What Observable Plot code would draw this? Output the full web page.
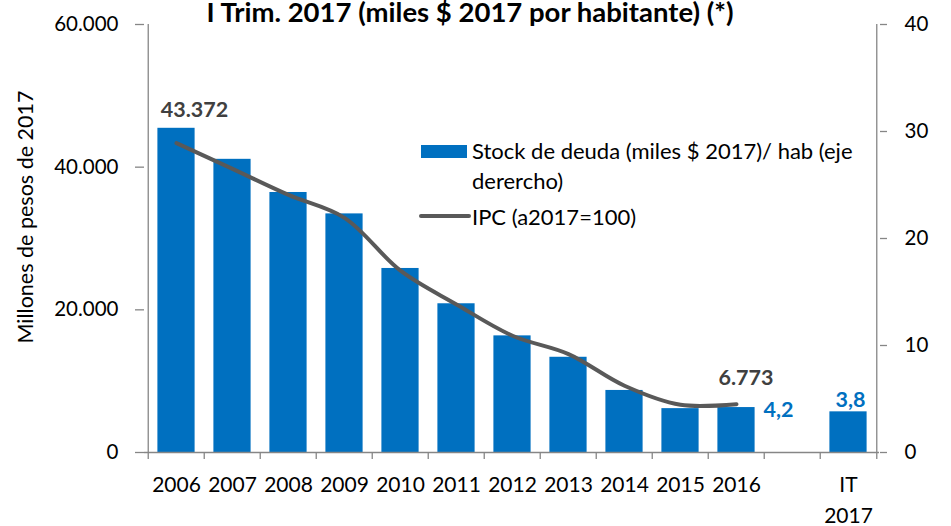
<!DOCTYPE html>
<html><head><meta charset="utf-8">
<script src="https://cdn.jsdelivr.net/npm/d3@7"></script>
<script src="https://cdn.jsdelivr.net/npm/@observablehq/plot@0.6"></script>
<style>
body{margin:0;background:#fff;font-family:Lato,"Open Sans",sans-serif;color:#000;}
#wrap{position:relative;width:951px;height:526px;overflow:hidden;}
#chart{position:absolute;left:0;top:0;}
#title{position:absolute;left:0;width:940px;top:-2px;text-align:center;font-weight:bold;font-size:27.5px;line-height:28px;white-space:nowrap;}
.lg{position:absolute;font-size:22px;line-height:30px;white-space:nowrap;}
#ytitle{position:absolute;left:25px;top:217px;transform:translate(-50%,-50%) rotate(-90deg);font-size:21.5px;white-space:nowrap;}
</style>
</head><body>
<div id="wrap">
  <div id="chart"></div>
  <div id="title">I Trim. 2017 (miles $ 2017 por habitante) (*)</div>
  <div id="ytitle">Millones de pesos de 2017</div>
  <div style="position:absolute;left:421px;top:145px;width:46px;height:13px;background:#0070C0;"></div>
  <div class="lg" style="left:472px;top:136px;">Stock de deuda (miles $ 2017)/ hab (eje</div>
  <div class="lg" style="left:472px;top:166px;">derercho)</div>
  <div style="position:absolute;left:419px;top:214px;width:52px;height:4px;border-radius:2px;background:#595959;"></div>
  <div class="lg" style="left:472px;top:202px;">IPC (a2017=100)</div>
</div>
<script>
const categories = ["2006","2007","2008","2009","2010","2011","2012","2013","2014","2015","2016"," ","IT 2017"];
const tickLabels = ["2006","2007","2008","2009","2010","2011","2012","2013","2014","2015","2016","","IT\n2017"];
const stockPerHab = [30.3,27.4,24.3,22.3,17.2,13.9,10.9,8.9,5.8,4.1,4.2,null,3.8];
const ipc = [43372,39760,36110,32900,25490,20760,16370,13800,9360,6690,6773,null,null];
const leftTicks = [0,20000,40000,60000];
const rightTicks = [0,10,20,30,40];

const W = 951, H = 526, mL = 144, mR = 72, mT = 24, mB = 74;
const step = (W - mL - mR) / categories.length;
const plotH = H - mT - mB;
const ratio = 60000 / 40;
const gray = "#868686";
const blue = "#0070C0";
const dark = "#595959";
const fmtThousands = d => d3.format(",")(d).replace(/,/g, ".");
const fmtComma = d => d3.format(".1f")(d).replace(".", ",");

const data = categories.map((c, i) => ({cat: c, label: tickLabels[i], stock: stockPerHab[i], ipc: ipc[i]}));
const bars = data.filter(d => d.stock != null);
const linePts = data.filter(d => d.ipc != null);

const chart = Plot.plot({
  width: W, height: H,
  marginLeft: mL, marginRight: mR, marginTop: mT, marginBottom: mB,
  style: {fontFamily: "Lato, 'Open Sans', sans-serif", background: "transparent"},
  x: {type: "band", domain: categories, padding: 0, axis: null},
  y: {domain: [0, 60000], axis: null},
  marks: [
    Plot.barY(bars, {x: "cat", y: d => d.stock * ratio, fill: blue, insetLeft: 9.4, insetRight: 9.4}),
    Plot.ruleY([0], {stroke: gray, strokeWidth: 1.3}),
    Plot.ruleX([categories[0]], {x: d => d, dx: -step / 2, stroke: gray, strokeWidth: 1.3}),
    Plot.ruleX([categories[categories.length - 1]], {x: d => d, dx: step / 2, stroke: gray, strokeWidth: 1.3}),
    Plot.ruleX(categories, {x: d => d, dx: -step / 2, insetTop: plotH, insetBottom: -7, stroke: gray, strokeWidth: 1.3}),
    Plot.ruleX([categories[categories.length - 1]], {x: d => d, dx: step / 2, insetTop: plotH, insetBottom: -7, stroke: gray, strokeWidth: 1.3}),
    Plot.axisY(leftTicks, {anchor: "left", label: null, tickSize: 9, tickPadding: 17, tickFormat: fmtThousands, fontSize: 20.5, stroke: gray, fill: "#000", strokeWidth: 1.3}),
    Plot.axisY(rightTicks.map(t => t * ratio), {anchor: "right", label: null, tickSize: 7, tickPadding: 18, tickFormat: d => d / ratio, fontSize: 20.5, stroke: gray, fill: "#000", strokeWidth: 1.3}),
    Plot.text(data, {x: "cat", text: "label", frameAnchor: "bottom", lineAnchor: "top", dy: 18, lineHeight: 1.45, fontSize: 21, fill: "#000"}),
    Plot.line(linePts, {x: "cat", y: "ipc", curve: "catmull-rom", stroke: dark, strokeWidth: 4, strokeLinecap: "round"}),
    Plot.text([linePts[0]], {x: "cat", y: "ipc", text: d => fmtThousands(d.ipc), dx: 18, dy: -33, fontWeight: "bold", fontSize: 21.5, fill: "#404040"}),
    Plot.text([linePts[linePts.length - 1]], {x: "cat", y: "ipc", text: d => fmtThousands(d.ipc), dx: 9.5, dy: -26, fontWeight: "bold", fontSize: 21.5, fill: "#404040"}),
    Plot.text([bars[bars.length - 2]], {x: "cat", y: d => d.stock * ratio, text: d => fmtComma(d.stock), dx: 42, dy: 3, fontWeight: "bold", fontSize: 21.5, fill: blue}),
    Plot.text([bars[bars.length - 1]], {x: "cat", y: d => d.stock * ratio, text: d => fmtComma(d.stock), dx: 2, dy: -12, fontWeight: "bold", fontSize: 21.5, fill: blue})
  ]
});
document.getElementById("chart").appendChild(chart);
</script>
</body></html>
